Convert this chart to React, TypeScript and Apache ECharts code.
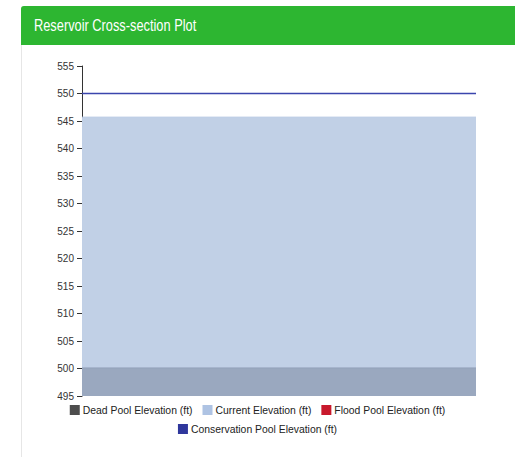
import React, { useEffect, useRef } from "react";
import * as echarts from "echarts";

const TITLE = "Reservoir Cross-section Plot";
const X_RANGE = [0, 1];
const DEAD_POOL = 500.1;
const CURRENT_ELEV = 545.7;
const CONSERVATION_POOL = 550;
const FLOOD_POOL: number[] = [];
const Y_MIN = 495;
const Y_MAX = 555;
const Y_STEP = 5;
const SERIES_NAMES = [
  "Dead Pool Elevation (ft)",
  "Current Elevation (ft)",
  "Flood Pool Elevation (ft)",
  "Conservation Pool Elevation (ft)",
];
const LEGEND_COLORS = ["#4d4d4d", "#aec3e3", "#c8192c", "#2f379c"];

export default function App() {
  const ref = useRef<HTMLDivElement>(null);
  useEffect(() => {
    if (!ref.current) return;
    const chart = echarts.init(ref.current, null, { renderer: "svg" });
    const font = "'Liberation Sans', Arial, Helvetica, sans-serif";
    const legendItem = (i: number) => ({
      name: SERIES_NAMES[i],
      itemStyle: { color: LEGEND_COLORS[i] },
    });
    const legendBase = {
      left: "center",
      icon: "rect",
      itemWidth: 10,
      itemHeight: 10,
      itemGap: 10,
      textStyle: { fontSize: 10.4, color: "#222", fontFamily: font, padding: [0, 0, 0, -2] },
    };
    chart.setOption({
      animation: false,
      grid: { left: 82, top: 66, width: 394, height: 330, containLabel: false },
      xAxis: {
        type: "value",
        min: X_RANGE[0],
        max: X_RANGE[1],
        show: false,
      },
      yAxis: {
        type: "value",
        min: Y_MIN,
        max: Y_MAX,
        interval: Y_STEP,
        axisLine: { show: true, lineStyle: { color: "#333", width: 1 } },
        axisTick: { show: true, length: 5, lineStyle: { color: "#333" } },
        splitLine: { show: false },
        axisLabel: { color: "#333", fontSize: 10, fontFamily: font, margin: 8 },
      },
      legend: [
        { ...legendBase, data: [legendItem(0), legendItem(1), legendItem(2)], top: 400 },
        { ...legendBase, data: [legendItem(3)], top: 419 },
      ],
      series: [
        {
          name: SERIES_NAMES[1],
          type: "line",
          data: X_RANGE.map((x) => [x, CURRENT_ELEV]),
          showSymbol: false,
          lineStyle: { width: 1, color: "#b7c8e3" },
          itemStyle: { color: LEGEND_COLORS[1] },
          areaStyle: { color: "#c1d0e6", opacity: 1 },
          z: 2,
        },
        {
          name: SERIES_NAMES[0],
          type: "line",
          data: X_RANGE.map((x) => [x, DEAD_POOL]),
          showSymbol: false,
          lineStyle: { width: 1, color: "#93a1b9" },
          itemStyle: { color: LEGEND_COLORS[0] },
          areaStyle: { color: "#9aa8bf", opacity: 1 },
          z: 3,
        },
        {
          name: SERIES_NAMES[2],
          type: "line",
          data: FLOOD_POOL,
          showSymbol: false,
          itemStyle: { color: LEGEND_COLORS[2] },
          lineStyle: { color: LEGEND_COLORS[2] },
        },
        {
          name: SERIES_NAMES[3],
          type: "line",
          data: X_RANGE.map((x) => [x, CONSERVATION_POOL]),
          showSymbol: false,
          itemStyle: { color: "#3b45ad" },
          lineStyle: { width: 1.4, color: "#3b45ad", opacity: 1 },
          z: 4,
        },
      ],
    });
    return () => chart.dispose();
  }, []);

  return (
    <div style={{ position: "absolute", left: 0, top: 0, width: 515, height: 457, background: "#fff", overflow: "hidden" }}>
      <div
        style={{
          position: "absolute",
          left: 21,
          top: 6,
          width: 500,
          height: 460,
          borderLeft: "1px solid #e6e6e6",
          borderTop: "1px solid #e6e6e6",
          borderTopLeftRadius: 3,
        }}
      />
      <div
        style={{
          position: "absolute",
          left: 21,
          top: 6,
          width: 494,
          height: 39,
          background: "#2db631",
          borderTopLeftRadius: 3,
        }}
      />
      <div
        style={{
          position: "absolute",
          left: 34,
          top: 6,
          height: 39,
          color: "#fff",
          fontFamily: "'Liberation Sans', Arial, sans-serif",
          fontSize: 16,
          lineHeight: "39px",
          whiteSpace: "nowrap",
          transform: "scaleX(0.8)",
          transformOrigin: "left center",
        }}
      >
        {TITLE}
      </div>
      <div ref={ref} style={{ position: "absolute", left: 0, top: 0, width: 515, height: 457 }} />
    </div>
  );
}
